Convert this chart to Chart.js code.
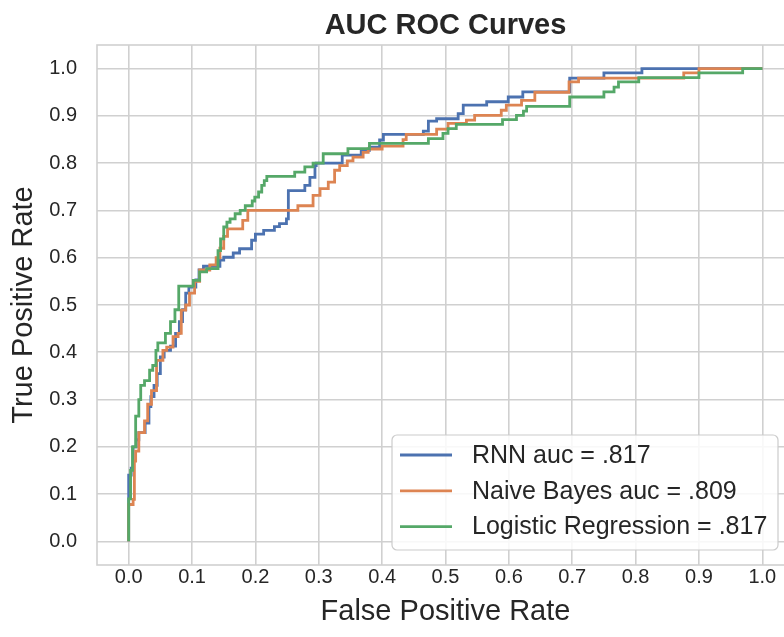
<!DOCTYPE html>
<html>
<head>
<meta charset="utf-8">
<script src="https://cdn.jsdelivr.net/npm/chart.js@4.4.1/dist/chart.umd.min.js"></script>
<style>
  html, body { margin: 0; padding: 0; background: #fff; overflow: hidden; }
  #wrap { width: 784px; height: 637px; overflow: hidden; }
  #roc { display: block; }
</style>
</head>
<body>
<div id="wrap"><canvas id="roc" width="794" height="637"></canvas></div>
<script>
const chartTitle = 'AUC ROC Curves';
const xTitle = 'False Positive Rate';
const yTitle = 'True Positive Rate';
const seriesLabels = ['RNN auc = .817', 'Naive Bayes auc = .809', 'Logistic Regression = .817'];
const seriesColors = ['#4c72b0', '#dd8452', '#55a868'];

const xTicks = [0, 0.1, 0.2, 0.3, 0.4, 0.5, 0.6, 0.7, 0.8, 0.9, 1.0];
const yTicks = [0, 0.1, 0.2, 0.3, 0.4, 0.5, 0.6, 0.7, 0.8, 0.9, 1.0];

// ROC points: fpr where the curve rises, tpr at the top of that rise
const rnnFpr = [0, 0, 0.004, 0.007, 0.012, 0.016, 0.026, 0.032, 0.035, 0.040, 0.045, 0.050, 0.056, 0.066,
  0.074, 0.080, 0.085, 0.090, 0.095, 0.106, 0.111, 0.118, 0.144, 0.150, 0.165, 0.175, 0.194, 0.200, 0.213,
  0.230, 0.238, 0.249, 0.252, 0.278, 0.286, 0.294, 0.296, 0.337, 0.367, 0.380, 0.396, 0.402, 0.465, 0.473,
  0.486, 0.520, 0.528, 0.565, 0.599, 0.622, 0.696, 0.750, 0.810, 1.0];
const rnnTpr = [0, 0.14, 0.155, 0.200, 0.215, 0.230, 0.250, 0.285, 0.306, 0.330, 0.355, 0.390, 0.404, 0.413,
  0.440, 0.465, 0.490, 0.525, 0.538, 0.553, 0.574, 0.582, 0.595, 0.601, 0.610, 0.619, 0.637, 0.650, 0.658,
  0.666, 0.672, 0.682, 0.742, 0.753, 0.770, 0.795, 0.800, 0.817, 0.827, 0.834, 0.849, 0.861, 0.868, 0.889,
  0.894, 0.905, 0.923, 0.930, 0.940, 0.951, 0.980, 0.991, 1.0, 1.0];

const nbFpr = [0, 0, 0.007, 0.009, 0.011, 0.016, 0.025, 0.030, 0.036, 0.044, 0.054, 0.060, 0.070, 0.078,
  0.083, 0.090, 0.096, 0.104, 0.112, 0.128, 0.138, 0.144, 0.150, 0.156, 0.180, 0.188, 0.267, 0.291, 0.302,
  0.315, 0.325, 0.333, 0.345, 0.354, 0.370, 0.378, 0.400, 0.433, 0.438, 0.486, 0.504, 0.533, 0.546, 0.588,
  0.596, 0.620, 0.641, 0.695, 0.710, 0.876, 0.900, 1.0];
const nbTpr = [0, 0.078, 0.089, 0.170, 0.191, 0.230, 0.255, 0.290, 0.319, 0.383, 0.404, 0.411, 0.433, 0.440,
  0.489, 0.500, 0.525, 0.550, 0.574, 0.585, 0.600, 0.620, 0.645, 0.661, 0.679, 0.700, 0.710, 0.732, 0.746,
  0.760, 0.785, 0.795, 0.805, 0.813, 0.823, 0.830, 0.836, 0.850, 0.861, 0.872, 0.884, 0.891, 0.901, 0.912,
  0.923, 0.933, 0.950, 0.972, 0.980, 0.991, 1.0, 1.0];

const lrFpr = [0, 0, 0.003, 0.006, 0.011, 0.016, 0.019, 0.025, 0.033, 0.038, 0.043, 0.046, 0.058, 0.066,
  0.073, 0.079, 0.102, 0.112, 0.123, 0.141, 0.145, 0.150, 0.155, 0.160, 0.168, 0.176, 0.184, 0.195, 0.199,
  0.205, 0.210, 0.214, 0.218, 0.262, 0.278, 0.291, 0.307, 0.346, 0.380, 0.473, 0.496, 0.504, 0.517, 0.590,
  0.612, 0.623, 0.628, 0.696, 0.750, 0.766, 0.773, 0.805, 0.900, 0.969, 1.0];
const lrTpr = [0, 0.090, 0.150, 0.200, 0.265, 0.300, 0.330, 0.340, 0.362, 0.372, 0.404, 0.420, 0.440, 0.465,
  0.490, 0.540, 0.552, 0.570, 0.577, 0.615, 0.640, 0.665, 0.675, 0.682, 0.693, 0.700, 0.710, 0.720, 0.728,
  0.739, 0.753, 0.763, 0.772, 0.781, 0.792, 0.800, 0.820, 0.831, 0.842, 0.852, 0.863, 0.873, 0.882, 0.892,
  0.901, 0.910, 0.920, 0.940, 0.951, 0.961, 0.972, 0.981, 0.991, 1.0, 1.0];

const FONT = "'Liberation Sans', Arial, sans-serif";
const TEXT = '#262626';
const GRID = '#d0d0d0';

const toPoints = (xs, ys) => xs.map((x, i) => ({ x, y: ys[i] }));

// frame round the axes, drawn over the grid
const framePlugin = {
  id: 'frame',
  beforeDatasetsDraw(chart) {
    const { ctx, chartArea: a } = chart;
    ctx.save();
    ctx.strokeStyle = GRID;
    ctx.lineWidth = 1.6;
    ctx.strokeRect(a.left, a.top, a.right - a.left, a.bottom - a.top);
    ctx.restore();
  },
};

// title centred over the axes, not over the canvas
const titlePlugin = {
  id: 'axesTitle',
  afterDraw(chart) {
    const { ctx, chartArea: a } = chart;
    ctx.save();
    ctx.font = `bold 29px ${FONT}`;
    ctx.fillStyle = TEXT;
    ctx.textAlign = 'center';
    ctx.textBaseline = 'alphabetic';
    ctx.fillText(chartTitle, (a.left + a.right) / 2, 34);
    ctx.restore();
  },
};

// lower right legend box like matplotlib's
const legendPlugin = {
  id: 'insetLegend',
  afterDatasetsDraw(chart) {
    const { ctx, chartArea: a } = chart;
    const boxW = 386, boxH = 115;
    const x0 = a.left + 295, y0 = a.bottom - 15 - boxH;
    ctx.save();
    ctx.beginPath();
    ctx.roundRect(x0, y0, boxW, boxH, 5);
    ctx.fillStyle = 'rgba(255,255,255,0.85)';
    ctx.fill();
    ctx.strokeStyle = '#cccccc';
    ctx.lineWidth = 1.2;
    ctx.stroke();
    ctx.font = `25px ${FONT}`;
    ctx.textBaseline = 'middle';
    ctx.textAlign = 'left';
    seriesLabels.forEach((label, i) => {
      const y = y0 + 20 + i * 35.8;
      ctx.beginPath();
      ctx.moveTo(x0 + 8, y);
      ctx.lineTo(x0 + 60, y);
      ctx.strokeStyle = seriesColors[i];
      ctx.lineWidth = 2.8;
      ctx.stroke();
      ctx.fillStyle = TEXT;
      ctx.fillText(label, x0 + 80, y + 1);
    });
    ctx.restore();
  },
};

const makeSet = (i, xs, ys, order) => ({
  label: seriesLabels[i],
  data: toPoints(xs, ys),
  borderColor: seriesColors[i],
  backgroundColor: seriesColors[i],
  borderWidth: 2.8,
  pointRadius: 0,
  stepped: 'before',
  fill: false,
  order,
});

Chart.defaults.font.family = FONT;
Chart.defaults.color = TEXT;

new Chart(document.getElementById('roc'), {
  type: 'line',
  data: {
    datasets: [
      makeSet(0, rnnFpr, rnnTpr, 3),
      makeSet(1, nbFpr, nbTpr, 2),
      makeSet(2, lrFpr, lrTpr, 1),
    ],
  },
  options: {
    responsive: false,
    devicePixelRatio: 1,
    animation: false,
    layout: { padding: { top: 45, left: 0, right: 0, bottom: 0 } },
    plugins: {
      legend: { display: false },
      title: { display: false },
      tooltip: { enabled: false },
    },
    scales: {
      x: {
        type: 'linear',
        min: -0.05,
        max: 1.05,
        afterBuildTicks: (s) => { s.ticks = xTicks.map((v) => ({ value: v })); },
        afterFit: (s) => { s.height = 72; },
        grid: { color: GRID, lineWidth: 1.6, drawTicks: false },
        border: { display: false },
        ticks: { padding: 0, font: { size: 20 }, color: TEXT, callback: (v) => Number(v).toFixed(1) },
        title: { display: true, text: xTitle, font: { size: 29 }, color: TEXT, padding: { top: 0, bottom: 8 } },
      },
      y: {
        type: 'linear',
        min: -0.05,
        max: 1.05,
        afterBuildTicks: (s) => { s.ticks = yTicks.map((v) => ({ value: v })); },
        afterFit: (s) => { s.width = 97; },
        grid: { color: GRID, lineWidth: 1.6, drawTicks: false },
        border: { display: false },
        ticks: { padding: 20, font: { size: 20 }, color: TEXT, callback: (v) => Number(v).toFixed(1) },
        title: { display: true, text: yTitle, font: { size: 29 }, color: TEXT, padding: { top: 7, bottom: 0 } },
      },
    },
  },
  plugins: [framePlugin, legendPlugin, titlePlugin],
});
</script>
</body>
</html>
